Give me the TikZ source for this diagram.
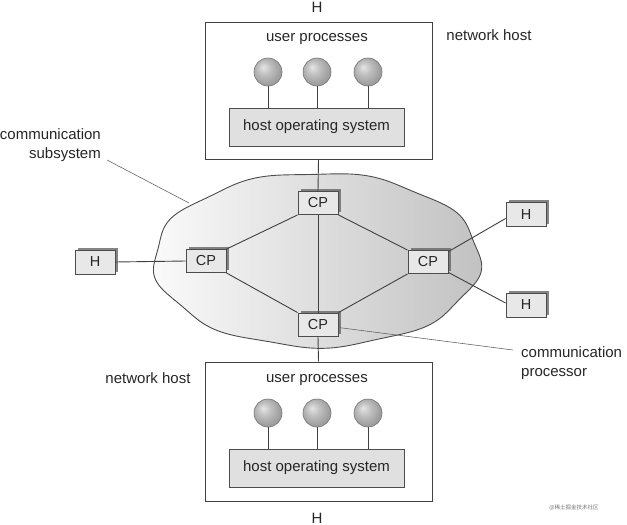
\documentclass[tikz,border=0pt]{standalone}
\usepackage{fontspec}
\setmainfont{Liberation Sans}
\newfontfamily\cjk{Noto Sans CJK SC}
\usetikzlibrary{shadows,shadings}
\pgfdeclareradialshading{softball}{\pgfpoint{-9bp}{9bp}}{color(0bp)=(black!10); color(12bp)=(black!25); color(26bp)=(black!38); color(50bp)=(black!42)}
\begin{document}
\begin{tikzpicture}[x=1pt,y=-1pt,
  lbl/.style={font=\fontsize{15}{19}\selectfont, inner sep=0pt, text=black!85},
  hostbox/.style={draw=black!75, line width=1pt, fill=white, minimum width=227pt, inner sep=0pt},
  osbox/.style={draw=black!70, line width=0.9pt, fill=black!12, minimum width=175pt, minimum height=38pt, inner sep=0pt, font=\fontsize{15}{17}\selectfont, text=black!85},
  ball/.style={circle, minimum size=28pt, inner sep=0pt, draw=black!55, line width=0.6pt, shading=softball},
  cpbox/.style={draw=black!70, line width=0.9pt, fill=black!9, minimum width=40pt, minimum height=23pt, inner sep=0pt, font=\fontsize{14.5}{17}\selectfont, text=black!85,
    general shadow={shadow xshift=2.5pt, shadow yshift=2.5pt, fill=black!60, opacity=0.8}},
  link/.style={draw=black!75, line width=0.9pt},
  leader/.style={draw=black!60, line width=0.6pt}
]
\useasboundingbox (0,0) rectangle (627,525);

% cloud
\draw[draw=black!70, line width=0.9pt, left color=black!2, right color=black!24]
  plot[domain=0:360, samples=240, variable=\t]
  ({317+163*cos(\t)*(1+0.016*sin(9*\t+20))}, {260+87*sin(\t)*(1+0.016*sin(9*\t+20))}) -- cycle;
\coordinate (cloudedge) at (189,203);

% host boxes
\node[hostbox, minimum height=137pt] (top) at (318.5,90.5) {};
\node[hostbox, minimum height=139pt] (bot) at (318.5,431.5) {};

\node[lbl] (tH) at (317,7) {H};
\node[lbl] (bH) at (317,518) {H};
\node[lbl] (tup) at (317,39) {user processes};
\node[lbl] (bup) at (317,380) {user processes};
\node[lbl] (tnh) at (489,35) {network host};
\node[lbl] (bnh) at (148,378) {network host};

\node[osbox] (tos) at (316.5,127) {host operating system};
\node[osbox] (bos) at (316.5,468) {host operating system};

\foreach \i/\x in {1/268,2/317,3/368}{
  \node[ball] (tb\i) at (\x,72) {};
  \draw[link] (tb\i.south) -- (tb\i.south |- tos.north);
  \node[ball] (bb\i) at (\x,413) {};
  \draw[link] (bb\i.south) -- (bb\i.south |- bos.north);
}

% CP nodes
\node[cpbox] (cpt) at (318,203) {CP};
\node[cpbox] (cpl) at (206,261) {CP};
\node[cpbox] (cpr) at (428,262) {CP};
\node[cpbox] (cpb) at (318,324.5) {CP};

\node[cpbox, minimum height=24pt] (hl) at (95,262) {H};
\node[cpbox, minimum height=24pt] (hr1) at (526,214.5) {H};
\node[cpbox, minimum height=24pt] (hr2) at (526,305) {H};

% links
\draw[link] (top.south) -- (cpt.north);
\draw[link] (cpt.south) -- (cpb.north);
\draw[link] (cpb.south) -- (bot.north);
\draw[link] (cpt.south west) -- (cpl.north east);
\draw[link] (cpt.south east) -- (cpr.north west);
\draw[link] (cpl.south east) -- (cpb.north west);
\draw[link] (cpr.south west) -- (cpb.north east);
\draw[link] (hl.east) -- (cpl.west);
\draw[link] ([yshift=-1.5pt]cpr.north east) -- ([yshift=-4pt]hr1.west);
\draw[link] ([yshift=1.5pt]cpr.south east) -- ([yshift=2pt]hr2.west);

% labels with leaders
\node[lbl, align=right, anchor=east] (csub) at (101,145) {communication\\subsystem};
\draw[leader] (107,160) -- (cloudedge);
\node[lbl, align=left, anchor=west] (cproc) at (521,363) {communication\\processor};
\coordinate (cpleadend) at (513,350);
\draw[leader] ([yshift=-3pt]cpb.east) -- (cpleadend);

% watermark
\node[font=\cjk\fontsize{5.5}{6}\selectfont, text=black!55, inner sep=0pt] (wm) at (574,508) {@稀土掘金技术社区};
\end{tikzpicture}
\end{document}
